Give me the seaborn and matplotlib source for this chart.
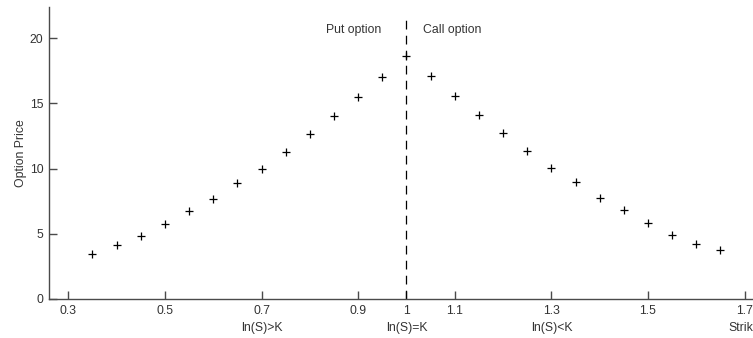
import matplotlib
matplotlib.use("Agg")
import matplotlib.pyplot as plt
import matplotlib.transforms as mtransforms
import seaborn as sns
import pandas as pd

# Option price against moneyness (strike / spot)
strike = [0.35, 0.40, 0.45, 0.50, 0.55, 0.60, 0.65, 0.70, 0.75, 0.80, 0.85, 0.90, 0.95,
          1.00,
          1.05, 1.10, 1.15, 1.20, 1.25, 1.30, 1.35, 1.40, 1.45, 1.50, 1.55, 1.60, 1.65]
price = [3.45, 4.14, 4.83, 5.76, 6.73, 7.70, 8.88, 10.0, 11.28, 12.64, 14.02, 15.53, 17.01,
         18.65,
         17.09, 15.56, 14.10, 12.76, 11.36, 10.08, 9.00, 7.77, 6.81, 5.83, 4.91, 4.24, 3.74]

xticks = [0.3, 0.5, 0.7, 0.9, 1.0, 1.1, 1.3, 1.5, 1.7]
xtick_labels = ["0.3", "0.5", "0.7", "0.9", "1", "1.1", "1.3", "1.5", "1.7"]
yticks = [0, 5, 10, 15, 20]
region_pos = [0.7, 1.0, 1.3, 1.7]
region_labels = ["ln(S)>K", "ln(S)=K", "ln(S)<K", "Strike"]

df = pd.DataFrame({"strike": strike, "price": price})

sns.set_theme(style="white")
plt.rcParams["font.family"] = ["Liberation Sans", "DejaVu Sans"]
axis_col = "#4a4a4a"
text_col = "#333333"
fs = 8.8

fig = plt.figure(figsize=(7.53, 3.38), dpi=100)
ax = fig.add_axes([0.065, 0.1154, 0.956, 0.864])

sns.scatterplot(data=df, x="strike", y="price", marker="+", s=40, color="black",
                linewidth=0.9, ax=ax, legend=False)

ax.axvline(1.0, color="black", lw=0.9, linestyle=(0, (7, 5)), ymax=0.97)

ax.set_xlim(0.26, 1.75)
ax.set_ylim(0, 22.4)
ax.set_xticks(xticks)
ax.set_xticklabels(xtick_labels)
ax.set_yticks(yticks)
ax.set_xlabel("")
ax.set_ylabel("Option Price", fontsize=fs, color=text_col, labelpad=2)

for side in ("top", "right"):
    ax.spines[side].set_visible(False)
for side in ("left", "bottom"):
    ax.spines[side].set_color(axis_col)
    ax.spines[side].set_linewidth(1.0)

ax.tick_params(axis="both", direction="in", length=6, width=1.0, color=axis_col,
               labelsize=fs, labelcolor=text_col, bottom=True, left=True,
               top=False, right=False)
ax.tick_params(axis="x", pad=4)
ax.tick_params(axis="y", pad=4)

ax.text(0.948, 20.6, "Put option", ha="right", va="center", fontsize=fs, color=text_col)
ax.text(1.035, 20.6, "Call option", ha="left", va="center", fontsize=fs, color=text_col)

trans = mtransforms.blended_transform_factory(ax.transData, ax.transAxes)
for xp, lab in zip(region_pos, region_labels):
    ax.text(xp, -0.099, lab, transform=trans, ha="center", va="center",
            fontsize=fs, color=text_col, clip_on=False)

fig.savefig("out.png", dpi=100)
